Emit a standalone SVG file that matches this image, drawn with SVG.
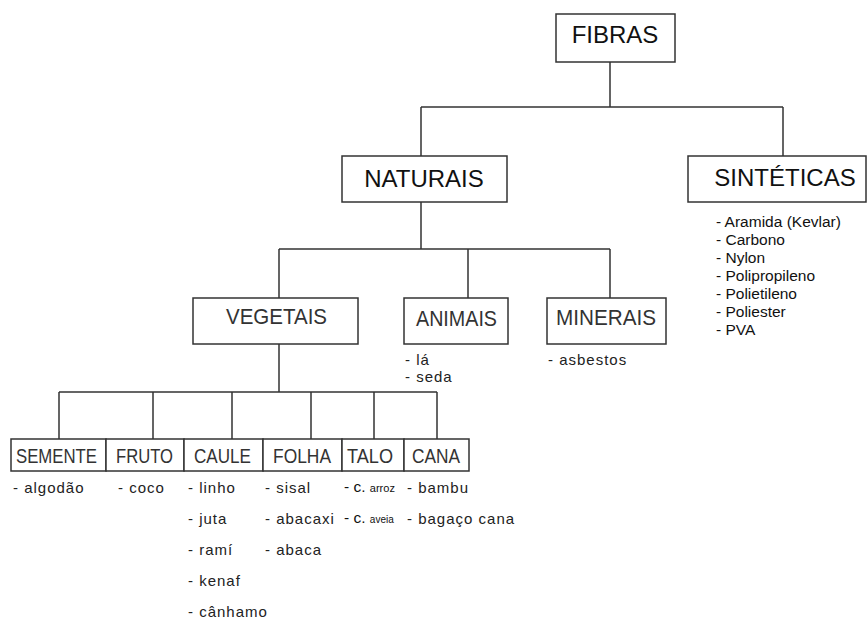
<svg xmlns="http://www.w3.org/2000/svg" width="868" height="619" viewBox="0 0 868 619">
<style>
.box{fill:#fff;stroke:#333;stroke-width:1.5}
.ln{fill:none;stroke:#333;stroke-width:1.5}
.big{font-family:"Liberation Sans",Arial,sans-serif;font-size:24px;fill:#111;text-anchor:middle}
.mid{font-family:"Liberation Sans",Arial,sans-serif;font-size:22px;fill:#333;text-anchor:middle}
.sm{font-family:"Liberation Sans",Arial,sans-serif;font-size:21px;fill:#333;text-anchor:middle}
.it{font-family:"Liberation Sans",Arial,sans-serif;font-size:15px;fill:#222;letter-spacing:1px}
.syn{font-family:"Liberation Sans",Arial,sans-serif;font-size:15.5px;fill:#111}
</style>
<rect width="868" height="619" fill="#fff"/>
<g id="connectors">
<path class="ln" d="M610,62V107M421,107H783M421,107V156M783,107V156"/>
<path class="ln" d="M421,202V249M279,249H610M279,249V298M468,249V298M610,249V298"/>
<path class="ln" d="M279,344V392M59,392H437M59,392V439M153,392V439M232,392V439M311,392V439M374,392V439M437,392V439"/>
</g>
<g id="fibras">
<rect class="box" x="556" y="14" width="119" height="48"/>
<text class="big" x="615" y="43" font-size="23.5">FIBRAS</text>
</g>
<g id="naturais">
<rect class="box" x="342" y="156" width="165" height="46"/>
<text class="big" x="424" y="187">NATURAIS</text>
</g>
<g id="sinteticas">
<rect class="box" x="688" y="156" width="178" height="46"/>
<text class="big" x="785" y="186">SINTÉTICAS</text>
<text class="syn"><tspan x="716" y="227">- Aramida (Kevlar)</tspan><tspan x="716" y="245">- Carbono</tspan><tspan x="716" y="263">- Nylon</tspan><tspan x="716" y="281">- Polipropileno</tspan><tspan x="716" y="299">- Polietileno</tspan><tspan x="716" y="317">- Poliester</tspan><tspan x="716" y="335">- PVA</tspan></text>
</g>
<g id="vegetais">
<rect class="box" x="193" y="298" width="165" height="46"/>
<text class="mid" x="276.5" y="324" textLength="101" lengthAdjust="spacingAndGlyphs">VEGETAIS</text>
</g>
<g id="animais">
<rect class="box" x="404" y="298" width="104" height="46"/>
<text class="mid" x="456.5" y="326" textLength="81" lengthAdjust="spacingAndGlyphs">ANIMAIS</text>
<text class="it"><tspan x="405" y="365">- lá</tspan><tspan x="405" y="382">- seda</tspan></text>
</g>
<g id="minerais">
<rect class="box" x="547" y="298" width="119" height="46"/>
<text class="mid" x="606" y="325" textLength="100" lengthAdjust="spacingAndGlyphs">MINERAIS</text>
<text class="it" x="548" y="365">- asbestos</text>
</g>
<g id="semente">
<rect class="box" x="11" y="439" width="95" height="32"/>
<text class="sm" x="56.5" y="463" textLength="81" lengthAdjust="spacingAndGlyphs">SEMENTE</text>
<text class="it" x="13" y="493">- algodão</text>
</g>
<g id="fruto">
<rect class="box" x="106" y="439" width="78" height="32"/>
<text class="sm" x="144.5" y="463" textLength="57" lengthAdjust="spacingAndGlyphs">FRUTO</text>
<text class="it" x="118" y="493">- coco</text>
</g>
<g id="caule">
<rect class="box" x="184" y="439" width="79" height="32"/>
<text class="sm" x="222.5" y="463" textLength="57" lengthAdjust="spacingAndGlyphs">CAULE</text>
<text class="it"><tspan x="188" y="493">- linho</tspan><tspan x="188" y="524">- juta</tspan><tspan x="188" y="555">- ramí</tspan><tspan x="188" y="586">- kenaf</tspan><tspan x="188" y="617">- cânhamo</tspan></text>
</g>
<g id="folha">
<rect class="box" x="263" y="439" width="79" height="32"/>
<text class="sm" x="302" y="463" textLength="58" lengthAdjust="spacingAndGlyphs">FOLHA</text>
<text class="it"><tspan x="265" y="493">- sisal</tspan><tspan x="265" y="524">- abacaxi</tspan><tspan x="265" y="555">- abaca</tspan></text>
</g>
<g id="talo">
<rect class="box" x="342" y="439" width="62" height="32"/>
<text class="sm" x="370" y="463" textLength="46" lengthAdjust="spacingAndGlyphs">TALO</text>
<text class="syn" x="344" y="492" font-size="13">- c. <tspan font-size="11">arroz</tspan></text>
<text class="syn" x="344" y="523" font-size="13">- c. <tspan font-size="10">aveia</tspan></text>
</g>
<g id="cana">
<rect class="box" x="404" y="439" width="65" height="32"/>
<text class="sm" x="436" y="463" textLength="48" lengthAdjust="spacingAndGlyphs">CANA</text>
<text class="it"><tspan x="407" y="493">- bambu</tspan><tspan x="407" y="524">- bagaço cana</tspan></text>
</g>
</svg>
